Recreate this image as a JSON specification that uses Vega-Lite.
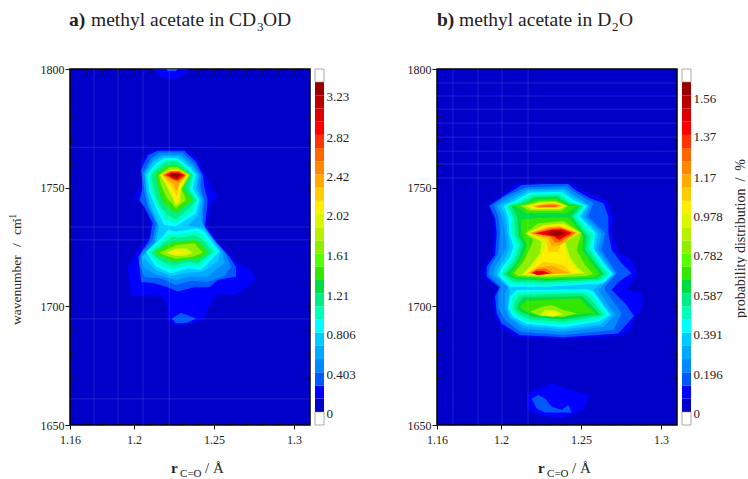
{"$schema":"https://vega.github.io/schema/vega-lite/v6.json","padding":{"left":7,"top":9,"right":0,"bottom":0},"background":"white","config":{"range":{"ordinal":["#0000c8","#0000ff","#0058ff","#0088ff","#00aaff","#00ccff","#00ffff","#00ffbb","#00ee88","#00dd44","#33e800","#55ff00","#90ee00","#b8f000","#d8f800","#ffee00","#ffcc00","#ffaa00","#ff8800","#ff6600","#ff3300","#ff0000","#dd0000","#bb0000","#990000"]},"axis":{"labelFont":"Liberation Serif","labelColor":"#222","labelFontSize":12,"domain":false,"grid":false,"tickColor":"#111","title":null},"text":{"font":"Liberation Serif","color":"#222"}},"spacing":50,"hconcat":[{"spacing":2,"hconcat":[{"width":240,"height":356,"view":{"fill":"#0000c8","stroke":"#000","strokeWidth":1.5},"resolve":{"axis":{"x":"independent","y":"independent"}},"layer":[
{"data":{"values":[
{"b":1,"p":0,"x":1.2169,"y":1766.2},{"b":1,"p":0,"x":1.2325,"y":1766.2},{"b":1,"p":0,"x":1.2398,"y":1762.4},{"b":1,"p":0,"x":1.2444,"y":1755.3},{"b":1,"p":0,"x":1.2471,"y":1751.8},{"b":1,"p":0,"x":1.2523,"y":1746.2},{"b":1,"p":0,"x":1.2471,"y":1742},{"b":1,"p":0,"x":1.246,"y":1733.6},{"b":1,"p":0,"x":1.2523,"y":1727.2},{"b":1,"p":0,"x":1.2606,"y":1721.6},{"b":1,"p":0,"x":1.2648,"y":1718.1},{"b":1,"p":0,"x":1.2731,"y":1715.3},{"b":1,"p":0,"x":1.2758,"y":1711.8},{"b":1,"p":0,"x":1.271,"y":1708.3},{"b":1,"p":0,"x":1.2627,"y":1704.8},{"b":1,"p":0,"x":1.2523,"y":1705.5},{"b":1,"p":0,"x":1.2471,"y":1700.6},{"b":1,"p":0,"x":1.2439,"y":1694.9},{"b":1,"p":0,"x":1.2377,"y":1692.8},{"b":1,"p":0,"x":1.2262,"y":1691.9},{"b":1,"p":0,"x":1.221,"y":1694.2},{"b":1,"p":0,"x":1.221,"y":1699.9},{"b":1,"p":0,"x":1.2169,"y":1704.8},{"b":1,"p":0,"x":1.1981,"y":1704.4},{"b":1,"p":0,"x":1.196,"y":1716.7},{"b":1,"p":0,"x":1.2027,"y":1723.7},{"b":1,"p":0,"x":1.2106,"y":1730.1},{"b":1,"p":0,"x":1.2096,"y":1737.8},{"b":1,"p":0,"x":1.2033,"y":1744.8},{"b":1,"p":0,"x":1.1998,"y":1744.8},{"b":1,"p":0,"x":1.2044,"y":1751.8},{"b":1,"p":0,"x":1.2044,"y":1761.7},{"b":1,"p":0,"x":1.2096,"y":1765.2},
{"b":1,"p":1,"x":1.2117,"y":1800},{"b":1,"p":1,"x":1.2346,"y":1800},{"b":1,"p":1,"x":1.2283,"y":1796.1},{"b":1,"p":1,"x":1.2231,"y":1795.8},{"b":1,"p":1,"x":1.2158,"y":1796.8},
{"b":2,"p":0,"x":1.2148,"y":1765.6},{"b":2,"p":0,"x":1.2314,"y":1765.6},{"b":2,"p":0,"x":1.2387,"y":1761},{"b":2,"p":0,"x":1.2429,"y":1755.3},{"b":2,"p":0,"x":1.2439,"y":1750.4},{"b":2,"p":0,"x":1.246,"y":1744.8},{"b":2,"p":0,"x":1.2444,"y":1733.6},{"b":2,"p":0,"x":1.2512,"y":1727.2},{"b":2,"p":0,"x":1.2596,"y":1720.9},{"b":2,"p":0,"x":1.2637,"y":1716.7},{"b":2,"p":0,"x":1.2637,"y":1712.5},{"b":2,"p":0,"x":1.2523,"y":1711.1},{"b":2,"p":0,"x":1.2471,"y":1708},{"b":2,"p":0,"x":1.2377,"y":1708},{"b":2,"p":0,"x":1.2273,"y":1706.2},{"b":2,"p":0,"x":1.221,"y":1708},{"b":2,"p":0,"x":1.2127,"y":1709.7},{"b":2,"p":0,"x":1.2044,"y":1710.4},{"b":2,"p":0,"x":1.2027,"y":1720.9},{"b":2,"p":0,"x":1.2096,"y":1728},{"b":2,"p":0,"x":1.2117,"y":1735},{"b":2,"p":0,"x":1.2064,"y":1742},{"b":2,"p":0,"x":1.2033,"y":1744.8},{"b":2,"p":0,"x":1.2054,"y":1749.7},{"b":2,"p":0,"x":1.2044,"y":1757.4},{"b":2,"p":0,"x":1.2089,"y":1763.8},
{"b":2,"p":1,"x":1.22,"y":1800},{"b":2,"p":1,"x":1.2273,"y":1800},{"b":2,"p":1,"x":1.2262,"y":1799.2},{"b":2,"p":1,"x":1.221,"y":1799.2},
{"b":2,"p":2,"x":1.2237,"y":1694.9},{"b":2,"p":2,"x":1.2294,"y":1697.3},{"b":2,"p":2,"x":1.2387,"y":1694.9},{"b":2,"p":2,"x":1.2335,"y":1693.1},{"b":2,"p":2,"x":1.2262,"y":1692.8},
{"b":3,"p":0,"x":1.2158,"y":1764.8},{"b":3,"p":0,"x":1.2304,"y":1764.8},{"b":3,"p":0,"x":1.2377,"y":1760.3},{"b":3,"p":0,"x":1.2419,"y":1755.3},{"b":3,"p":0,"x":1.2414,"y":1750.4},{"b":3,"p":0,"x":1.2439,"y":1744.8},{"b":3,"p":0,"x":1.2429,"y":1735},{"b":3,"p":0,"x":1.2481,"y":1729.4},{"b":3,"p":0,"x":1.2575,"y":1722.3},{"b":3,"p":0,"x":1.2606,"y":1716.7},{"b":3,"p":0,"x":1.2564,"y":1712.8},{"b":3,"p":0,"x":1.246,"y":1710.4},{"b":3,"p":0,"x":1.2356,"y":1710.8},{"b":3,"p":0,"x":1.2262,"y":1709},{"b":3,"p":0,"x":1.2169,"y":1711.8},{"b":3,"p":0,"x":1.2064,"y":1712.5},{"b":3,"p":0,"x":1.2033,"y":1718.1},{"b":3,"p":0,"x":1.2044,"y":1722.3},{"b":3,"p":0,"x":1.2117,"y":1728},{"b":3,"p":0,"x":1.2137,"y":1735},{"b":3,"p":0,"x":1.2085,"y":1742},{"b":3,"p":0,"x":1.2064,"y":1748.3},{"b":3,"p":0,"x":1.2054,"y":1756},{"b":3,"p":0,"x":1.2106,"y":1762.4},
{"b":4,"p":0,"x":1.2169,"y":1763.8},{"b":4,"p":0,"x":1.2294,"y":1763.8},{"b":4,"p":0,"x":1.2367,"y":1759.6},{"b":4,"p":0,"x":1.2408,"y":1755.3},{"b":4,"p":0,"x":1.2398,"y":1750.4},{"b":4,"p":0,"x":1.2429,"y":1744.8},{"b":4,"p":0,"x":1.2419,"y":1736.4},{"b":4,"p":0,"x":1.245,"y":1732.2},{"b":4,"p":0,"x":1.2554,"y":1723},{"b":4,"p":0,"x":1.2564,"y":1718.1},{"b":4,"p":0,"x":1.246,"y":1712.5},{"b":4,"p":0,"x":1.2356,"y":1712.5},{"b":4,"p":0,"x":1.2262,"y":1711.1},{"b":4,"p":0,"x":1.2148,"y":1713.2},{"b":4,"p":0,"x":1.2064,"y":1716},{"b":4,"p":0,"x":1.2044,"y":1720.9},{"b":4,"p":0,"x":1.2127,"y":1726.6},{"b":4,"p":0,"x":1.2148,"y":1734.3},{"b":4,"p":0,"x":1.2096,"y":1742},{"b":4,"p":0,"x":1.2075,"y":1748.3},{"b":4,"p":0,"x":1.2064,"y":1756},{"b":4,"p":0,"x":1.2117,"y":1761.7},
{"b":5,"p":0,"x":1.2179,"y":1763.1},{"b":5,"p":0,"x":1.2283,"y":1763.1},{"b":5,"p":0,"x":1.2356,"y":1758.9},{"b":5,"p":0,"x":1.2398,"y":1755.3},{"b":5,"p":0,"x":1.2387,"y":1749.7},{"b":5,"p":0,"x":1.2419,"y":1744.8},{"b":5,"p":0,"x":1.2398,"y":1737.8},{"b":5,"p":0,"x":1.2335,"y":1734},{"b":5,"p":0,"x":1.2439,"y":1732.9},{"b":5,"p":0,"x":1.2544,"y":1723},{"b":5,"p":0,"x":1.2523,"y":1718.8},{"b":5,"p":0,"x":1.2429,"y":1714.6},{"b":5,"p":0,"x":1.2346,"y":1714.3},{"b":5,"p":0,"x":1.2231,"y":1712.8},{"b":5,"p":0,"x":1.2137,"y":1715.3},{"b":5,"p":0,"x":1.2054,"y":1720.9},{"b":5,"p":0,"x":1.2137,"y":1727.2},{"b":5,"p":0,"x":1.2158,"y":1733.6},{"b":5,"p":0,"x":1.2106,"y":1742},{"b":5,"p":0,"x":1.2081,"y":1748.3},{"b":5,"p":0,"x":1.2069,"y":1756},{"b":5,"p":0,"x":1.2123,"y":1761},
{"b":6,"p":0,"x":1.2189,"y":1762.4},{"b":6,"p":0,"x":1.2273,"y":1762.4},{"b":6,"p":0,"x":1.2346,"y":1758.6},{"b":6,"p":0,"x":1.2387,"y":1755.3},{"b":6,"p":0,"x":1.2367,"y":1749.7},{"b":6,"p":0,"x":1.2408,"y":1744.8},{"b":6,"p":0,"x":1.2387,"y":1739.2},{"b":6,"p":0,"x":1.2262,"y":1733.6},{"b":6,"p":0,"x":1.2189,"y":1734.3},{"b":6,"p":0,"x":1.2137,"y":1741.3},{"b":6,"p":0,"x":1.2096,"y":1748.3},{"b":6,"p":0,"x":1.2081,"y":1755.3},{"b":6,"p":0,"x":1.2137,"y":1760.3},
{"b":6,"p":1,"x":1.221,"y":1732.2},{"b":6,"p":1,"x":1.2262,"y":1731.5},{"b":6,"p":1,"x":1.2398,"y":1732.9},{"b":6,"p":1,"x":1.2439,"y":1731.5},{"b":6,"p":1,"x":1.2533,"y":1723},{"b":6,"p":1,"x":1.246,"y":1718.1},{"b":6,"p":1,"x":1.2419,"y":1715.3},{"b":6,"p":1,"x":1.2346,"y":1716},{"b":6,"p":1,"x":1.2231,"y":1713.9},{"b":6,"p":1,"x":1.2137,"y":1716.7},{"b":6,"p":1,"x":1.2075,"y":1723},{"b":6,"p":1,"x":1.2169,"y":1728.7},
{"b":7,"p":0,"x":1.22,"y":1761.7},{"b":7,"p":0,"x":1.2273,"y":1761.7},{"b":7,"p":0,"x":1.2335,"y":1758.2},{"b":7,"p":0,"x":1.2377,"y":1755.3},{"b":7,"p":0,"x":1.2352,"y":1749.7},{"b":7,"p":0,"x":1.2398,"y":1744.8},{"b":7,"p":0,"x":1.2367,"y":1740.6},{"b":7,"p":0,"x":1.2262,"y":1735},{"b":7,"p":0,"x":1.22,"y":1736.4},{"b":7,"p":0,"x":1.2148,"y":1742},{"b":7,"p":0,"x":1.211,"y":1748.3},{"b":7,"p":0,"x":1.2089,"y":1755.3},{"b":7,"p":0,"x":1.2148,"y":1759.6},
{"b":7,"p":1,"x":1.2231,"y":1730.8},{"b":7,"p":1,"x":1.2262,"y":1730.1},{"b":7,"p":1,"x":1.2387,"y":1731.5},{"b":7,"p":1,"x":1.2429,"y":1730.1},{"b":7,"p":1,"x":1.2512,"y":1723},{"b":7,"p":1,"x":1.2439,"y":1718.8},{"b":7,"p":1,"x":1.2408,"y":1716.7},{"b":7,"p":1,"x":1.2346,"y":1717.4},{"b":7,"p":1,"x":1.2231,"y":1715.6},{"b":7,"p":1,"x":1.2148,"y":1718.1},{"b":7,"p":1,"x":1.2089,"y":1722.6},{"b":7,"p":1,"x":1.2179,"y":1728},
{"b":8,"p":0,"x":1.2206,"y":1761},{"b":8,"p":0,"x":1.2269,"y":1761},{"b":8,"p":0,"x":1.2325,"y":1757.7},{"b":8,"p":0,"x":1.2367,"y":1755.3},{"b":8,"p":0,"x":1.2339,"y":1749.7},{"b":8,"p":0,"x":1.2387,"y":1744.8},{"b":8,"p":0,"x":1.2346,"y":1741.3},{"b":8,"p":0,"x":1.2262,"y":1736.7},{"b":8,"p":0,"x":1.2206,"y":1738.5},{"b":8,"p":0,"x":1.2158,"y":1742.7},{"b":8,"p":0,"x":1.2127,"y":1748.3},{"b":8,"p":0,"x":1.2106,"y":1755.3},{"b":8,"p":0,"x":1.2158,"y":1758.9},
{"b":8,"p":1,"x":1.2242,"y":1729.4},{"b":8,"p":1,"x":1.2273,"y":1728.7},{"b":8,"p":1,"x":1.2377,"y":1729.8},{"b":8,"p":1,"x":1.2419,"y":1728.7},{"b":8,"p":1,"x":1.2492,"y":1723},{"b":8,"p":1,"x":1.2429,"y":1719.5},{"b":8,"p":1,"x":1.2398,"y":1717.8},{"b":8,"p":1,"x":1.2346,"y":1718.8},{"b":8,"p":1,"x":1.2231,"y":1717},{"b":8,"p":1,"x":1.2158,"y":1719.5},{"b":8,"p":1,"x":1.2106,"y":1722.6},{"b":8,"p":1,"x":1.2189,"y":1726.8},
{"b":10,"p":0,"x":1.2221,"y":1759.6},{"b":10,"p":0,"x":1.2262,"y":1759.6},{"b":10,"p":0,"x":1.2325,"y":1756.7},{"b":10,"p":0,"x":1.2346,"y":1755.3},{"b":10,"p":0,"x":1.2314,"y":1749.7},{"b":10,"p":0,"x":1.2367,"y":1744.8},{"b":10,"p":0,"x":1.2325,"y":1742.7},{"b":10,"p":0,"x":1.2262,"y":1739.2},{"b":10,"p":0,"x":1.2221,"y":1741.3},{"b":10,"p":0,"x":1.2179,"y":1744.1},{"b":10,"p":0,"x":1.2158,"y":1748.3},{"b":10,"p":0,"x":1.2137,"y":1755.3},{"b":10,"p":0,"x":1.2169,"y":1757.4},
{"b":10,"p":1,"x":1.2262,"y":1727.2},{"b":10,"p":1,"x":1.2377,"y":1728},{"b":10,"p":1,"x":1.2419,"y":1726.6},{"b":10,"p":1,"x":1.246,"y":1722.6},{"b":10,"p":1,"x":1.2408,"y":1720.2},{"b":10,"p":1,"x":1.2346,"y":1719.9},{"b":10,"p":1,"x":1.2252,"y":1718.8},{"b":10,"p":1,"x":1.2169,"y":1720.9},{"b":10,"p":1,"x":1.2127,"y":1722.6},{"b":10,"p":1,"x":1.22,"y":1725.8},
{"b":12,"p":0,"x":1.2221,"y":1758.6},{"b":12,"p":0,"x":1.2273,"y":1758.6},{"b":12,"p":0,"x":1.2352,"y":1755.3},{"b":12,"p":0,"x":1.2298,"y":1749.7},{"b":12,"p":0,"x":1.2325,"y":1744.8},{"b":12,"p":0,"x":1.2262,"y":1741.3},{"b":12,"p":0,"x":1.22,"y":1746.2},{"b":12,"p":0,"x":1.2169,"y":1751.1},{"b":12,"p":0,"x":1.2154,"y":1755.3},
{"b":12,"p":1,"x":1.2262,"y":1725.8},{"b":12,"p":1,"x":1.2377,"y":1726.6},{"b":12,"p":1,"x":1.2429,"y":1722.6},{"b":12,"p":1,"x":1.2367,"y":1720.9},{"b":12,"p":1,"x":1.2262,"y":1720.1},{"b":12,"p":1,"x":1.2189,"y":1721.6},{"b":12,"p":1,"x":1.2158,"y":1722.6},{"b":12,"p":1,"x":1.2221,"y":1724.4},
{"b":14,"p":0,"x":1.2231,"y":1757.7},{"b":14,"p":0,"x":1.2273,"y":1757.7},{"b":14,"p":0,"x":1.2341,"y":1755.3},{"b":14,"p":0,"x":1.2294,"y":1749.7},{"b":14,"p":0,"x":1.2289,"y":1744.1},{"b":14,"p":0,"x":1.2262,"y":1742.4},{"b":14,"p":0,"x":1.2231,"y":1746.9},{"b":14,"p":0,"x":1.22,"y":1751.1},{"b":14,"p":0,"x":1.2162,"y":1755.3},
{"b":14,"p":1,"x":1.2262,"y":1724.4},{"b":14,"p":1,"x":1.2325,"y":1724.4},{"b":14,"p":1,"x":1.2367,"y":1722.6},{"b":14,"p":1,"x":1.2325,"y":1721.4},{"b":14,"p":1,"x":1.2262,"y":1721.2},{"b":14,"p":1,"x":1.22,"y":1722.6},
{"b":15,"p":0,"x":1.2235,"y":1757.4},{"b":15,"p":0,"x":1.2273,"y":1757.4},{"b":15,"p":0,"x":1.2335,"y":1755.3},{"b":15,"p":0,"x":1.2287,"y":1750.4},{"b":15,"p":0,"x":1.2277,"y":1744.1},{"b":15,"p":0,"x":1.2262,"y":1743.1},{"b":15,"p":0,"x":1.2235,"y":1748.3},{"b":15,"p":0,"x":1.2206,"y":1751.8},{"b":15,"p":0,"x":1.2169,"y":1755.3},
{"b":15,"p":1,"x":1.2262,"y":1723.6},{"b":15,"p":1,"x":1.2304,"y":1723},{"b":15,"p":1,"x":1.2283,"y":1721.9},{"b":15,"p":1,"x":1.2242,"y":1722},{"b":15,"p":1,"x":1.2221,"y":1722.8},
{"b":16,"p":0,"x":1.2231,"y":1757.2},{"b":16,"p":0,"x":1.2283,"y":1757.2},{"b":16,"p":0,"x":1.2331,"y":1755.3},{"b":16,"p":0,"x":1.2283,"y":1751.1},{"b":16,"p":0,"x":1.2267,"y":1746.2},{"b":16,"p":0,"x":1.2242,"y":1749.7},{"b":16,"p":0,"x":1.221,"y":1752.5},{"b":16,"p":0,"x":1.2173,"y":1755.3},
{"b":17,"p":0,"x":1.2221,"y":1757},{"b":17,"p":0,"x":1.2283,"y":1757},{"b":17,"p":0,"x":1.2331,"y":1755.3},{"b":17,"p":0,"x":1.2283,"y":1751.8},{"b":17,"p":0,"x":1.2267,"y":1748.7},{"b":17,"p":0,"x":1.2242,"y":1751.5},{"b":17,"p":0,"x":1.2179,"y":1755.3},
{"b":19,"p":0,"x":1.2227,"y":1756.9},{"b":19,"p":0,"x":1.2283,"y":1756.9},{"b":19,"p":0,"x":1.2325,"y":1755.3},{"b":19,"p":0,"x":1.2277,"y":1752.5},{"b":19,"p":0,"x":1.2252,"y":1753},{"b":19,"p":0,"x":1.2185,"y":1755.3},
{"b":20,"p":0,"x":1.2231,"y":1756.7},{"b":20,"p":0,"x":1.2277,"y":1756.7},{"b":20,"p":0,"x":1.2319,"y":1755.3},{"b":20,"p":0,"x":1.2273,"y":1753},{"b":20,"p":0,"x":1.2248,"y":1753.5},{"b":20,"p":0,"x":1.2196,"y":1755.3},
{"b":21,"p":0,"x":1.2235,"y":1756.3},{"b":21,"p":0,"x":1.2277,"y":1756.3},{"b":21,"p":0,"x":1.231,"y":1755.3},{"b":21,"p":0,"x":1.2269,"y":1753.2},{"b":21,"p":0,"x":1.2242,"y":1754},{"b":21,"p":0,"x":1.2202,"y":1755.3},
{"b":23,"p":0,"x":1.2231,"y":1756},{"b":23,"p":0,"x":1.2283,"y":1756},{"b":23,"p":0,"x":1.2298,"y":1755.3},{"b":23,"p":0,"x":1.2262,"y":1753.7},{"b":23,"p":0,"x":1.2215,"y":1755.2},
{"b":24,"p":0,"x":1.2237,"y":1755.8},{"b":24,"p":0,"x":1.2277,"y":1755.8},{"b":24,"p":0,"x":1.2289,"y":1755.3},{"b":24,"p":0,"x":1.226,"y":1754.2},{"b":24,"p":0,"x":1.2227,"y":1755.2}
]},"mark":{"type":"line","order":false,"strokeWidth":0},"encoding":{"x":{"field":"x","type":"quantitative","scale":{"domain":[1.16,1.31],"nice":false},"axis":{"orient":"bottom","values":[1.16,1.2,1.25,1.3],"format":".3~g","tickSize":4,"labelPadding":5,"labelFlush":false}},"y":{"field":"y","type":"quantitative","scale":{"domain":[1650,1800],"nice":false},"axis":{"orient":"left","values":[1650,1700,1750,1800],"format":"d","tickSize":5,"labelPadding":1}},"fill":{"field":"b","type":"ordinal","scale":{"domain":[0,1,2,3,4,5,6,7,8,9,10,11,12,13,14,15,16,17,18,19,20,21,22,23,24]},"legend":null},"detail":{"field":"p"}}},
{"data":{"values":[{"x":1.175},{"x":1.19},{"x":1.2056},{"x":1.222}]},"mark":{"type":"rule","color":"#fff","opacity":0.12,"strokeWidth":1},"encoding":{"x":{"field":"x","type":"quantitative","scale":{"domain":[1.16,1.31],"nice":false},"axis":{"orient":"top","values":[1.17,1.18,1.19,1.2,1.21,1.22,1.23,1.24,1.25,1.26,1.27,1.28,1.29,1.3],"labels":false,"tickSize":-3}}}},
{"data":{"values":[{"y":1767},{"y":1733.4},{"y":1728},{"y":1694.7},{"y":1661}]},"mark":{"type":"rule","color":"#fff","opacity":0.12,"strokeWidth":1},"encoding":{"y":{"field":"y","type":"quantitative","scale":{"domain":[1650,1800],"nice":false},"axis":{"orient":"right","values":[1660,1670,1680,1690,1700,1710,1720,1730,1740,1750,1760,1770,1780,1790],"labels":false,"tickSize":-3}}}},
{"data":{"values":[{"x":1.1594,"y":1818.1,"t":"a)"}]},"mark":{"type":"text","align":"left","baseline":"alphabetic","fontSize":19.5,"fontWeight":"bold"},"encoding":{"x":{"field":"x","type":"quantitative","scale":{"domain":[1.16,1.31],"nice":false},"axis":{"orient":"bottom","values":[1.17,1.18,1.19,1.2,1.21,1.22,1.23,1.24,1.25,1.26,1.27,1.28,1.29,1.3],"labels":false,"tickSize":-3}},"y":{"field":"y","type":"quantitative","scale":{"domain":[1650,1800],"nice":false},"axis":{"orient":"left","values":[1660,1670,1680,1690,1710,1720,1730,1740,1760,1770,1780,1790],"labels":false,"tickSize":-3}},"text":{"field":"t"}}},
{"data":{"values":[{"x":1.1731,"y":1818.1,"t":"methyl acetate in CD"},{"x":1.2806,"y":1818.1,"t":"OD"}]},"mark":{"type":"text","align":"left","baseline":"alphabetic","fontSize":19.5},"encoding":{"x":{"field":"x","type":"quantitative","axis":null},"y":{"field":"y","type":"quantitative","axis":null},"text":{"field":"t"}}},
{"data":{"values":[{"x":1.2769,"y":1816,"t":"3"}]},"mark":{"type":"text","align":"left","baseline":"alphabetic","fontSize":13},"encoding":{"x":{"field":"x","type":"quantitative","axis":null},"y":{"field":"y","type":"quantitative","axis":null},"text":{"field":"t"}}},
{"data":{"values":[{"x":1.2288,"y":1628.1,"t":"C=O"}]},"mark":{"type":"text","align":"left","baseline":"alphabetic","fontSize":11},"encoding":{"x":{"field":"x","type":"quantitative","axis":null},"y":{"field":"y","type":"quantitative","axis":null},"text":{"field":"t"}}},
{"data":{"values":[{"x":1.2231,"y":1629.8,"t":"r"}]},"mark":{"type":"text","align":"left","baseline":"alphabetic","fontSize":15,"fontWeight":"bold"},"encoding":{"x":{"field":"x","type":"quantitative","axis":null},"y":{"field":"y","type":"quantitative","axis":null},"text":{"field":"t"}}},
{"data":{"values":[{"x":1.2444,"y":1629.8,"t":"/ Å"}]},"mark":{"type":"text","align":"left","baseline":"alphabetic","fontSize":15},"encoding":{"x":{"field":"x","type":"quantitative","axis":null},"y":{"field":"y","type":"quantitative","axis":null},"text":{"field":"t"}}},
{"data":{"values":[{"x":1.1294,"y":1692.1,"t":"wavenumber"},{"x":1.1294,"y":1725,"t":"/"},{"x":1.1294,"y":1730.1,"t":"cm"}]},"mark":{"type":"text","align":"left","baseline":"alphabetic","fontSize":13.5,"angle":270},"encoding":{"x":{"field":"x","type":"quantitative","axis":null},"y":{"field":"y","type":"quantitative","axis":null},"text":{"field":"t"}}},
{"data":{"values":[{"x":1.1263,"y":1735.5,"t":"-1"}]},"mark":{"type":"text","align":"left","baseline":"alphabetic","fontSize":10,"angle":270},"encoding":{"x":{"field":"x","type":"quantitative","axis":null},"y":{"field":"y","type":"quantitative","axis":null},"text":{"field":"t"}}}
]},
{"width":9,"height":356,"view":{"stroke":null},"resolve":{"axis":{"y":"independent"}},"layer":[
{"data":{"values":[{"lo":-0.1344,"hi":0},{"lo":3.36,"hi":3.4944}]},"mark":{"type":"rect","fill":"#fff","stroke":"#aaa","strokeWidth":1},"encoding":{"y":{"field":"lo","type":"quantitative","scale":{"domain":[-0.1344,3.4944],"nice":false,"zero":false},"axis":null},"y2":{"field":"hi"}}},
{"data":{"values":[{"b":0,"lo":0,"hi":0.1344},{"b":1,"lo":0.1344,"hi":0.2688},{"b":2,"lo":0.2688,"hi":0.4032},{"b":3,"lo":0.4032,"hi":0.5376},{"b":4,"lo":0.5376,"hi":0.672},{"b":5,"lo":0.672,"hi":0.8064},{"b":6,"lo":0.8064,"hi":0.9408},{"b":7,"lo":0.9408,"hi":1.0752},{"b":8,"lo":1.0752,"hi":1.2096},{"b":9,"lo":1.2096,"hi":1.344},{"b":10,"lo":1.344,"hi":1.4784},{"b":11,"lo":1.4784,"hi":1.6128},{"b":12,"lo":1.6128,"hi":1.7472},{"b":13,"lo":1.7472,"hi":1.8816},{"b":14,"lo":1.8816,"hi":2.016},{"b":15,"lo":2.016,"hi":2.1504},{"b":16,"lo":2.1504,"hi":2.2848},{"b":17,"lo":2.2848,"hi":2.4192},{"b":18,"lo":2.4192,"hi":2.5536},{"b":19,"lo":2.5536,"hi":2.688},{"b":20,"lo":2.688,"hi":2.8224},{"b":21,"lo":2.8224,"hi":2.9568},{"b":22,"lo":2.9568,"hi":3.0912},{"b":23,"lo":3.0912,"hi":3.2256},{"b":24,"lo":3.2256,"hi":3.36}]},"mark":{"type":"rect"},"encoding":{"y":{"field":"lo","type":"quantitative","scale":{"domain":[-0.1344,3.4944],"nice":false,"zero":false},"axis":{"orient":"right","values":[0,0.403,0.806,1.21,1.61,2.02,2.42,2.82,3.23],"format":".3~g","tickSize":0,"labelPadding":2,"labelFontSize":13,"labelOffset":2}},"y2":{"field":"hi"},"fill":{"field":"b","type":"ordinal","scale":{"domain":[0,1,2,3,4,5,6,7,8,9,10,11,12,13,14,15,16,17,18,19,20,21,22,23,24]},"legend":null}}}
]}]},
{"spacing":2,"hconcat":[{"width":240,"height":356,"view":{"fill":"#0000c8","stroke":"#000","strokeWidth":1.5},"resolve":{"axis":{"x":"independent","y":"independent"}},"layer":[
{"data":{"values":[
{"b":1,"p":0,"x":1.2108,"y":1751.8},{"b":1,"p":0,"x":1.2431,"y":1752.1},{"b":1,"p":0,"x":1.2483,"y":1749.7},{"b":1,"p":0,"x":1.2588,"y":1746.2},{"b":1,"p":0,"x":1.266,"y":1744.8},{"b":1,"p":0,"x":1.2702,"y":1737.8},{"b":1,"p":0,"x":1.2692,"y":1730.8},{"b":1,"p":0,"x":1.2733,"y":1722.3},{"b":1,"p":0,"x":1.2806,"y":1720.2},{"b":1,"p":0,"x":1.2852,"y":1713.9},{"b":1,"p":0,"x":1.2785,"y":1706.9},{"b":1,"p":0,"x":1.2883,"y":1705.5},{"b":1,"p":0,"x":1.2883,"y":1699.2},{"b":1,"p":0,"x":1.2831,"y":1694.9},{"b":1,"p":0,"x":1.2806,"y":1689.3},{"b":1,"p":0,"x":1.2723,"y":1687.5},{"b":1,"p":0,"x":1.239,"y":1686.2},{"b":1,"p":0,"x":1.2108,"y":1687.2},{"b":1,"p":0,"x":1.2004,"y":1690.7},{"b":1,"p":0,"x":1.1963,"y":1695.6},{"b":1,"p":0,"x":1.1952,"y":1704.1},{"b":1,"p":0,"x":1.1983,"y":1708},{"b":1,"p":0,"x":1.1896,"y":1711.8},{"b":1,"p":0,"x":1.1896,"y":1716.7},{"b":1,"p":0,"x":1.1946,"y":1721.6},{"b":1,"p":0,"x":1.1958,"y":1730.8},{"b":1,"p":0,"x":1.1952,"y":1737.1},{"b":1,"p":0,"x":1.1921,"y":1742.4},{"b":1,"p":0,"x":1.1994,"y":1746.2},
{"b":1,"p":1,"x":1.2161,"y":1663.3},{"b":1,"p":1,"x":1.2317,"y":1667.6},{"b":1,"p":1,"x":1.2473,"y":1664},{"b":1,"p":1,"x":1.2556,"y":1662.6},{"b":1,"p":1,"x":1.2515,"y":1656.3},{"b":1,"p":1,"x":1.2379,"y":1652.8},{"b":1,"p":1,"x":1.2244,"y":1654.2},{"b":1,"p":1,"x":1.2161,"y":1656.3},
{"b":2,"p":0,"x":1.2129,"y":1751.1},{"b":2,"p":0,"x":1.2265,"y":1751.5},{"b":2,"p":0,"x":1.2421,"y":1751.5},{"b":2,"p":0,"x":1.2473,"y":1748.7},{"b":2,"p":0,"x":1.2556,"y":1745.5},{"b":2,"p":0,"x":1.264,"y":1743.4},{"b":2,"p":0,"x":1.2671,"y":1737.8},{"b":2,"p":0,"x":1.2671,"y":1730.8},{"b":2,"p":0,"x":1.2692,"y":1723.7},{"b":2,"p":0,"x":1.2754,"y":1718.1},{"b":2,"p":0,"x":1.2817,"y":1713.9},{"b":2,"p":0,"x":1.2733,"y":1710.4},{"b":2,"p":0,"x":1.2692,"y":1706.9},{"b":2,"p":0,"x":1.2785,"y":1700.6},{"b":2,"p":0,"x":1.2831,"y":1695.9},{"b":2,"p":0,"x":1.2733,"y":1688.6},{"b":2,"p":0,"x":1.239,"y":1687},{"b":2,"p":0,"x":1.2115,"y":1687.9},{"b":2,"p":0,"x":1.2004,"y":1692.8},{"b":2,"p":0,"x":1.1973,"y":1697},{"b":2,"p":0,"x":1.1963,"y":1704.1},{"b":2,"p":0,"x":1.199,"y":1708},{"b":2,"p":0,"x":1.1911,"y":1712.5},{"b":2,"p":0,"x":1.1911,"y":1716.7},{"b":2,"p":0,"x":1.1963,"y":1721.6},{"b":2,"p":0,"x":1.1973,"y":1730.8},{"b":2,"p":0,"x":1.1963,"y":1737.1},{"b":2,"p":0,"x":1.1927,"y":1742.4},{"b":2,"p":0,"x":1.2004,"y":1745.9},
{"b":2,"p":1,"x":1.2192,"y":1661.2},{"b":2,"p":1,"x":1.2233,"y":1662.6},{"b":2,"p":1,"x":1.2275,"y":1661.2},{"b":2,"p":1,"x":1.2317,"y":1657.7},{"b":2,"p":1,"x":1.2379,"y":1656.3},{"b":2,"p":1,"x":1.2421,"y":1658.4},{"b":2,"p":1,"x":1.2442,"y":1655.3},{"b":2,"p":1,"x":1.2275,"y":1655.3},{"b":2,"p":1,"x":1.2223,"y":1657},
{"b":3,"p":0,"x":1.215,"y":1750.1},{"b":3,"p":0,"x":1.241,"y":1750.7},{"b":3,"p":0,"x":1.2473,"y":1747.6},{"b":3,"p":0,"x":1.2577,"y":1743.4},{"b":3,"p":0,"x":1.2546,"y":1737.8},{"b":3,"p":0,"x":1.265,"y":1730.8},{"b":3,"p":0,"x":1.2629,"y":1723.7},{"b":3,"p":0,"x":1.2723,"y":1713.9},{"b":3,"p":0,"x":1.265,"y":1708.3},{"b":3,"p":0,"x":1.265,"y":1706.9},{"b":3,"p":0,"x":1.2754,"y":1697},{"b":3,"p":0,"x":1.2702,"y":1690},{"b":3,"p":0,"x":1.239,"y":1687.9},{"b":3,"p":0,"x":1.2119,"y":1689.3},{"b":3,"p":0,"x":1.2025,"y":1694.2},{"b":3,"p":0,"x":1.1983,"y":1699.2},{"b":3,"p":0,"x":1.1983,"y":1705.5},{"b":3,"p":0,"x":1.1998,"y":1708.3},{"b":3,"p":0,"x":1.1921,"y":1713.2},{"b":3,"p":0,"x":1.1931,"y":1716.7},{"b":3,"p":0,"x":1.1983,"y":1722.3},{"b":3,"p":0,"x":1.1994,"y":1730.8},{"b":3,"p":0,"x":1.1983,"y":1737.8},{"b":3,"p":0,"x":1.1952,"y":1742.7},{"b":3,"p":0,"x":1.2025,"y":1746.2},
{"b":4,"p":0,"x":1.2161,"y":1749.3},{"b":4,"p":0,"x":1.24,"y":1749.7},{"b":4,"p":0,"x":1.2473,"y":1746.2},{"b":4,"p":0,"x":1.2556,"y":1742.4},{"b":4,"p":0,"x":1.2525,"y":1737.8},{"b":4,"p":0,"x":1.2629,"y":1730.8},{"b":4,"p":0,"x":1.2608,"y":1723.7},{"b":4,"p":0,"x":1.2713,"y":1713.6},{"b":4,"p":0,"x":1.264,"y":1709},{"b":4,"p":0,"x":1.2608,"y":1706.9},{"b":4,"p":0,"x":1.2713,"y":1696.3},{"b":4,"p":0,"x":1.264,"y":1691.4},{"b":4,"p":0,"x":1.239,"y":1689.3},{"b":4,"p":0,"x":1.214,"y":1690.7},{"b":4,"p":0,"x":1.2046,"y":1695.6},{"b":4,"p":0,"x":1.2025,"y":1699.2},{"b":4,"p":0,"x":1.2025,"y":1705.5},{"b":4,"p":0,"x":1.2046,"y":1708},{"b":4,"p":0,"x":1.1952,"y":1713.2},{"b":4,"p":0,"x":1.1963,"y":1716.7},{"b":4,"p":0,"x":1.2004,"y":1720.9},{"b":4,"p":0,"x":1.2035,"y":1725.2},{"b":4,"p":0,"x":1.2025,"y":1730.8},{"b":4,"p":0,"x":1.201,"y":1737.1},{"b":4,"p":0,"x":1.1973,"y":1742.4},{"b":4,"p":0,"x":1.2046,"y":1745.5},
{"b":5,"p":0,"x":1.2171,"y":1748.7},{"b":5,"p":0,"x":1.239,"y":1749},{"b":5,"p":0,"x":1.2463,"y":1745.5},{"b":5,"p":0,"x":1.2546,"y":1742.4},{"b":5,"p":0,"x":1.2504,"y":1737.8},{"b":5,"p":0,"x":1.2608,"y":1730.8},{"b":5,"p":0,"x":1.2588,"y":1723.7},{"b":5,"p":0,"x":1.2706,"y":1713.6},{"b":5,"p":0,"x":1.2619,"y":1709.4},{"b":5,"p":0,"x":1.2577,"y":1706.9},{"b":5,"p":0,"x":1.2692,"y":1696.3},{"b":5,"p":0,"x":1.2619,"y":1692.1},{"b":5,"p":0,"x":1.239,"y":1690.3},{"b":5,"p":0,"x":1.215,"y":1691.7},{"b":5,"p":0,"x":1.2056,"y":1695.6},{"b":5,"p":0,"x":1.204,"y":1699.2},{"b":5,"p":0,"x":1.2056,"y":1706.9},{"b":5,"p":0,"x":1.1973,"y":1713.2},{"b":5,"p":0,"x":1.1983,"y":1716},{"b":5,"p":0,"x":1.2025,"y":1720.2},{"b":5,"p":0,"x":1.2056,"y":1725.2},{"b":5,"p":0,"x":1.204,"y":1730.8},{"b":5,"p":0,"x":1.2031,"y":1737.1},{"b":5,"p":0,"x":1.1998,"y":1742.4},{"b":5,"p":0,"x":1.2067,"y":1744.8},
{"b":6,"p":0,"x":1.2181,"y":1748},{"b":6,"p":0,"x":1.2379,"y":1748.3},{"b":6,"p":0,"x":1.2452,"y":1744.8},{"b":6,"p":0,"x":1.2535,"y":1742.4},{"b":6,"p":0,"x":1.249,"y":1737.8},{"b":6,"p":0,"x":1.2592,"y":1730.8},{"b":6,"p":0,"x":1.2577,"y":1724.4},{"b":6,"p":0,"x":1.265,"y":1717.4},{"b":6,"p":0,"x":1.2698,"y":1713.6},{"b":6,"p":0,"x":1.264,"y":1709.7},{"b":6,"p":0,"x":1.2286,"y":1708.3},{"b":6,"p":0,"x":1.2056,"y":1708.3},{"b":6,"p":0,"x":1.1983,"y":1713.2},{"b":6,"p":0,"x":1.2004,"y":1716},{"b":6,"p":0,"x":1.2056,"y":1720.9},{"b":6,"p":0,"x":1.2077,"y":1725.2},{"b":6,"p":0,"x":1.2052,"y":1730.8},{"b":6,"p":0,"x":1.2046,"y":1737.1},{"b":6,"p":0,"x":1.2019,"y":1742.4},{"b":6,"p":0,"x":1.2088,"y":1744.5},
{"b":6,"p":1,"x":1.2098,"y":1706.9},{"b":6,"p":1,"x":1.2535,"y":1707.2},{"b":6,"p":1,"x":1.2577,"y":1706.2},{"b":6,"p":1,"x":1.2681,"y":1696.3},{"b":6,"p":1,"x":1.2608,"y":1693.5},{"b":6,"p":1,"x":1.239,"y":1691.2},{"b":6,"p":1,"x":1.2161,"y":1692.6},{"b":6,"p":1,"x":1.2077,"y":1695.6},{"b":6,"p":1,"x":1.2046,"y":1699.2},{"b":6,"p":1,"x":1.2056,"y":1704.1},
{"b":7,"p":0,"x":1.2192,"y":1747.3},{"b":7,"p":0,"x":1.2369,"y":1747.6},{"b":7,"p":0,"x":1.2442,"y":1744.1},{"b":7,"p":0,"x":1.2525,"y":1742.4},{"b":7,"p":0,"x":1.2473,"y":1737.8},{"b":7,"p":0,"x":1.2577,"y":1730.1},{"b":7,"p":0,"x":1.256,"y":1724.4},{"b":7,"p":0,"x":1.2629,"y":1717.4},{"b":7,"p":0,"x":1.2681,"y":1713.6},{"b":7,"p":0,"x":1.2619,"y":1710.4},{"b":7,"p":0,"x":1.2286,"y":1709},{"b":7,"p":0,"x":1.2067,"y":1709.4},{"b":7,"p":0,"x":1.1998,"y":1713.6},{"b":7,"p":0,"x":1.2025,"y":1716},{"b":7,"p":0,"x":1.2077,"y":1720.9},{"b":7,"p":0,"x":1.2102,"y":1725.8},{"b":7,"p":0,"x":1.2067,"y":1730.8},{"b":7,"p":0,"x":1.2067,"y":1737.1},{"b":7,"p":0,"x":1.2031,"y":1742.4},{"b":7,"p":0,"x":1.2102,"y":1744.1},
{"b":7,"p":1,"x":1.2108,"y":1705.9},{"b":7,"p":1,"x":1.2525,"y":1706.2},{"b":7,"p":1,"x":1.2567,"y":1704.8},{"b":7,"p":1,"x":1.266,"y":1696.3},{"b":7,"p":1,"x":1.2588,"y":1694.2},{"b":7,"p":1,"x":1.239,"y":1692.4},{"b":7,"p":1,"x":1.2171,"y":1693.5},{"b":7,"p":1,"x":1.2088,"y":1696.3},{"b":7,"p":1,"x":1.2063,"y":1699.2},{"b":7,"p":1,"x":1.2073,"y":1703.4},
{"b":8,"p":0,"x":1.2202,"y":1746.5},{"b":8,"p":0,"x":1.2358,"y":1746.9},{"b":8,"p":0,"x":1.2431,"y":1743.7},{"b":8,"p":0,"x":1.2515,"y":1742.4},{"b":8,"p":0,"x":1.2456,"y":1737.8},{"b":8,"p":0,"x":1.2556,"y":1729.4},{"b":8,"p":0,"x":1.2546,"y":1724.4},{"b":8,"p":0,"x":1.2615,"y":1717.4},{"b":8,"p":0,"x":1.266,"y":1713.6},{"b":8,"p":0,"x":1.2608,"y":1711.1},{"b":8,"p":0,"x":1.2286,"y":1710},{"b":8,"p":0,"x":1.2077,"y":1710.4},{"b":8,"p":0,"x":1.2015,"y":1713.6},{"b":8,"p":0,"x":1.2046,"y":1716},{"b":8,"p":0,"x":1.2088,"y":1720.2},{"b":8,"p":0,"x":1.2119,"y":1725.8},{"b":8,"p":0,"x":1.2088,"y":1730.1},{"b":8,"p":0,"x":1.2081,"y":1737.1},{"b":8,"p":0,"x":1.2046,"y":1742.4},{"b":8,"p":0,"x":1.2119,"y":1743.7},
{"b":8,"p":1,"x":1.2119,"y":1704.8},{"b":8,"p":1,"x":1.2515,"y":1705.5},{"b":8,"p":1,"x":1.2556,"y":1703.4},{"b":8,"p":1,"x":1.264,"y":1696.3},{"b":8,"p":1,"x":1.2577,"y":1695.4},{"b":8,"p":1,"x":1.239,"y":1693.5},{"b":8,"p":1,"x":1.2181,"y":1694.5},{"b":8,"p":1,"x":1.2102,"y":1697},{"b":8,"p":1,"x":1.2081,"y":1699.2},{"b":8,"p":1,"x":1.2088,"y":1702},
{"b":9,"p":0,"x":1.2213,"y":1745.9},{"b":9,"p":0,"x":1.2348,"y":1746.2},{"b":9,"p":0,"x":1.2421,"y":1743.1},{"b":9,"p":0,"x":1.2494,"y":1742.4},{"b":9,"p":0,"x":1.2442,"y":1737.8},{"b":9,"p":0,"x":1.2535,"y":1729.4},{"b":9,"p":0,"x":1.2525,"y":1723.7},{"b":9,"p":0,"x":1.2598,"y":1717.4},{"b":9,"p":0,"x":1.264,"y":1713.6},{"b":9,"p":0,"x":1.2598,"y":1711.7},{"b":9,"p":0,"x":1.2286,"y":1710.8},{"b":9,"p":0,"x":1.2088,"y":1711.4},{"b":9,"p":0,"x":1.2031,"y":1713.6},{"b":9,"p":0,"x":1.2067,"y":1716},{"b":9,"p":0,"x":1.2108,"y":1720.2},{"b":9,"p":0,"x":1.214,"y":1725.8},{"b":9,"p":0,"x":1.2108,"y":1730.1},{"b":9,"p":0,"x":1.2102,"y":1737.1},{"b":9,"p":0,"x":1.2067,"y":1742.4},{"b":9,"p":0,"x":1.214,"y":1743.1},
{"b":9,"p":1,"x":1.214,"y":1703.8},{"b":9,"p":1,"x":1.2504,"y":1704.4},{"b":9,"p":1,"x":1.2546,"y":1702},{"b":9,"p":1,"x":1.2619,"y":1696.3},{"b":9,"p":1,"x":1.2567,"y":1696.3},{"b":9,"p":1,"x":1.239,"y":1694.5},{"b":9,"p":1,"x":1.2192,"y":1695.6},{"b":9,"p":1,"x":1.2119,"y":1697.8},{"b":9,"p":1,"x":1.2102,"y":1699.2},{"b":9,"p":1,"x":1.2108,"y":1701.3},
{"b":10,"p":0,"x":1.2223,"y":1745.1},{"b":10,"p":0,"x":1.2344,"y":1745.4},{"b":10,"p":0,"x":1.2421,"y":1742.4},{"b":10,"p":0,"x":1.2473,"y":1742.3},{"b":10,"p":0,"x":1.241,"y":1739.2},{"b":10,"p":0,"x":1.2161,"y":1739.2},{"b":10,"p":0,"x":1.2088,"y":1742.4},{"b":10,"p":0,"x":1.215,"y":1743.1},
{"b":10,"p":1,"x":1.2213,"y":1737.1},{"b":10,"p":1,"x":1.239,"y":1737.5},{"b":10,"p":1,"x":1.2431,"y":1737.1},{"b":10,"p":1,"x":1.2515,"y":1729.4},{"b":10,"p":1,"x":1.251,"y":1723.7},{"b":10,"p":1,"x":1.2577,"y":1717.4},{"b":10,"p":1,"x":1.2619,"y":1713.6},{"b":10,"p":1,"x":1.2577,"y":1712.2},{"b":10,"p":1,"x":1.2286,"y":1711.5},{"b":10,"p":1,"x":1.2098,"y":1712.2},{"b":10,"p":1,"x":1.2052,"y":1713.6},{"b":10,"p":1,"x":1.2088,"y":1716},{"b":10,"p":1,"x":1.2129,"y":1720.2},{"b":10,"p":1,"x":1.2161,"y":1725.8},{"b":10,"p":1,"x":1.2129,"y":1730.1},{"b":10,"p":1,"x":1.2123,"y":1736.4},
{"b":10,"p":2,"x":1.2161,"y":1702.4},{"b":10,"p":2,"x":1.2494,"y":1703.4},{"b":10,"p":2,"x":1.2531,"y":1700.6},{"b":10,"p":2,"x":1.2598,"y":1696.3},{"b":10,"p":2,"x":1.2556,"y":1697.3},{"b":10,"p":2,"x":1.239,"y":1695.6},{"b":10,"p":2,"x":1.2202,"y":1696.6},{"b":10,"p":2,"x":1.214,"y":1698.5},{"b":10,"p":2,"x":1.2119,"y":1699.9},
{"b":12,"p":0,"x":1.2244,"y":1744.4},{"b":12,"p":0,"x":1.2338,"y":1744.5},{"b":12,"p":0,"x":1.2421,"y":1742.4},{"b":12,"p":0,"x":1.2379,"y":1740.3},{"b":12,"p":0,"x":1.2181,"y":1740.3},{"b":12,"p":0,"x":1.2119,"y":1742.4},{"b":12,"p":0,"x":1.2171,"y":1743},
{"b":12,"p":1,"x":1.2233,"y":1735},{"b":12,"p":1,"x":1.239,"y":1736},{"b":12,"p":1,"x":1.2504,"y":1731},{"b":12,"p":1,"x":1.2473,"y":1723.7},{"b":12,"p":1,"x":1.2525,"y":1717.4},{"b":12,"p":1,"x":1.2577,"y":1713.6},{"b":12,"p":1,"x":1.2535,"y":1712.8},{"b":12,"p":1,"x":1.2286,"y":1712.2},{"b":12,"p":1,"x":1.2108,"y":1712.8},{"b":12,"p":1,"x":1.2081,"y":1713.9},{"b":12,"p":1,"x":1.214,"y":1718.8},{"b":12,"p":1,"x":1.2181,"y":1724.4},{"b":12,"p":1,"x":1.2202,"y":1728},{"b":12,"p":1,"x":1.215,"y":1730.8},
{"b":12,"p":2,"x":1.2181,"y":1697.8},{"b":12,"p":2,"x":1.2265,"y":1699.9},{"b":12,"p":2,"x":1.2317,"y":1700.6},{"b":12,"p":2,"x":1.239,"y":1698.5},{"b":12,"p":2,"x":1.2473,"y":1697},{"b":12,"p":2,"x":1.239,"y":1695.6},{"b":12,"p":2,"x":1.2244,"y":1695.9},
{"b":14,"p":0,"x":1.2254,"y":1743.8},{"b":14,"p":0,"x":1.2338,"y":1744},{"b":14,"p":0,"x":1.2406,"y":1742.4},{"b":14,"p":0,"x":1.2369,"y":1740.9},{"b":14,"p":0,"x":1.2192,"y":1740.9},{"b":14,"p":0,"x":1.215,"y":1742.4},
{"b":14,"p":1,"x":1.2265,"y":1734.3},{"b":14,"p":1,"x":1.239,"y":1735},{"b":14,"p":1,"x":1.2494,"y":1731},{"b":14,"p":1,"x":1.24,"y":1727.2},{"b":14,"p":1,"x":1.2431,"y":1720.9},{"b":14,"p":1,"x":1.2473,"y":1716.7},{"b":14,"p":1,"x":1.2525,"y":1713.9},{"b":14,"p":1,"x":1.2286,"y":1712.8},{"b":14,"p":1,"x":1.2129,"y":1713.2},{"b":14,"p":1,"x":1.2171,"y":1716},{"b":14,"p":1,"x":1.2244,"y":1722.3},{"b":14,"p":1,"x":1.2254,"y":1727.2},{"b":14,"p":1,"x":1.2156,"y":1730.8},
{"b":14,"p":2,"x":1.2275,"y":1698.5},{"b":14,"p":2,"x":1.2338,"y":1698.2},{"b":14,"p":2,"x":1.239,"y":1696.8},{"b":14,"p":2,"x":1.2327,"y":1695.6},{"b":14,"p":2,"x":1.2244,"y":1696.3},
{"b":15,"p":0,"x":1.2265,"y":1743.5},{"b":15,"p":0,"x":1.2338,"y":1743.7},{"b":15,"p":0,"x":1.24,"y":1742.4},{"b":15,"p":0,"x":1.2358,"y":1741.2},{"b":15,"p":0,"x":1.2202,"y":1741.2},{"b":15,"p":0,"x":1.2171,"y":1742.4},
{"b":15,"p":1,"x":1.2275,"y":1733.9},{"b":15,"p":1,"x":1.2379,"y":1734.3},{"b":15,"p":1,"x":1.2487,"y":1731},{"b":15,"p":1,"x":1.2385,"y":1727.2},{"b":15,"p":1,"x":1.241,"y":1720.9},{"b":15,"p":1,"x":1.2452,"y":1716.7},{"b":15,"p":1,"x":1.2494,"y":1714.2},{"b":15,"p":1,"x":1.2286,"y":1713.1},{"b":15,"p":1,"x":1.215,"y":1713.6},{"b":15,"p":1,"x":1.2223,"y":1718.8},{"b":15,"p":1,"x":1.2275,"y":1723.7},{"b":15,"p":1,"x":1.2275,"y":1728},{"b":15,"p":1,"x":1.2171,"y":1730.8},
{"b":15,"p":2,"x":1.2296,"y":1697.5},{"b":15,"p":2,"x":1.2338,"y":1697.3},{"b":15,"p":2,"x":1.2358,"y":1696.6},{"b":15,"p":2,"x":1.2317,"y":1695.9},{"b":15,"p":2,"x":1.2286,"y":1696.3},
{"b":16,"p":0,"x":1.2275,"y":1743.3},{"b":16,"p":0,"x":1.2338,"y":1743.4},{"b":16,"p":0,"x":1.239,"y":1742.4},{"b":16,"p":0,"x":1.2348,"y":1741.4},{"b":16,"p":0,"x":1.2223,"y":1741.4},{"b":16,"p":0,"x":1.2192,"y":1742.4},
{"b":16,"p":1,"x":1.2286,"y":1733.6},{"b":16,"p":1,"x":1.2369,"y":1733.9},{"b":16,"p":1,"x":1.2483,"y":1731},{"b":16,"p":1,"x":1.2373,"y":1725.8},{"b":16,"p":1,"x":1.2358,"y":1723},{"b":16,"p":1,"x":1.2296,"y":1723},{"b":16,"p":1,"x":1.2281,"y":1728},{"b":16,"p":1,"x":1.2175,"y":1730.8},
{"b":16,"p":2,"x":1.2265,"y":1718.8},{"b":16,"p":2,"x":1.239,"y":1717.4},{"b":16,"p":2,"x":1.2442,"y":1713.9},{"b":16,"p":2,"x":1.2286,"y":1713.4},{"b":16,"p":2,"x":1.2171,"y":1713.9},
{"b":17,"p":0,"x":1.2286,"y":1743},{"b":17,"p":0,"x":1.2338,"y":1743.1},{"b":17,"p":0,"x":1.2379,"y":1742.4},{"b":17,"p":0,"x":1.2344,"y":1741.7},{"b":17,"p":0,"x":1.2233,"y":1741.7},{"b":17,"p":0,"x":1.2202,"y":1742.3},
{"b":17,"p":1,"x":1.2296,"y":1733.2},{"b":17,"p":1,"x":1.2369,"y":1733.6},{"b":17,"p":1,"x":1.2473,"y":1731},{"b":17,"p":1,"x":1.2373,"y":1725.8},{"b":17,"p":1,"x":1.2317,"y":1725.2},{"b":17,"p":1,"x":1.2296,"y":1728.7},{"b":17,"p":1,"x":1.2181,"y":1730.8},
{"b":17,"p":2,"x":1.2244,"y":1716.7},{"b":17,"p":2,"x":1.2327,"y":1717},{"b":17,"p":2,"x":1.239,"y":1715},{"b":17,"p":2,"x":1.2431,"y":1713.9},{"b":17,"p":2,"x":1.2286,"y":1713.5},{"b":17,"p":2,"x":1.2161,"y":1713.9},
{"b":19,"p":0,"x":1.2286,"y":1742.8},{"b":19,"p":0,"x":1.2338,"y":1742.8},{"b":19,"p":0,"x":1.2369,"y":1742.4},{"b":19,"p":0,"x":1.2338,"y":1741.9},{"b":19,"p":0,"x":1.2244,"y":1741.9},{"b":19,"p":0,"x":1.2219,"y":1742.3},
{"b":19,"p":1,"x":1.2306,"y":1732.9},{"b":19,"p":1,"x":1.2369,"y":1733.2},{"b":19,"p":1,"x":1.2463,"y":1731},{"b":19,"p":1,"x":1.2373,"y":1727.2},{"b":19,"p":1,"x":1.2338,"y":1726.8},{"b":19,"p":1,"x":1.2306,"y":1729.4},{"b":19,"p":1,"x":1.2192,"y":1730.8},
{"b":19,"p":2,"x":1.2223,"y":1715.6},{"b":19,"p":2,"x":1.2275,"y":1716},{"b":19,"p":2,"x":1.2327,"y":1713.9},{"b":19,"p":2,"x":1.2265,"y":1713.5},{"b":19,"p":2,"x":1.2181,"y":1713.9},
{"b":21,"p":0,"x":1.2317,"y":1732.4},{"b":21,"p":0,"x":1.2379,"y":1732.6},{"b":21,"p":0,"x":1.2442,"y":1731},{"b":21,"p":0,"x":1.2365,"y":1728},{"b":21,"p":0,"x":1.2327,"y":1729.4},{"b":21,"p":0,"x":1.2213,"y":1730.8},
{"b":21,"p":1,"x":1.2219,"y":1715},{"b":21,"p":1,"x":1.2265,"y":1715},{"b":21,"p":1,"x":1.2306,"y":1713.8},{"b":21,"p":1,"x":1.2233,"y":1713.1},{"b":21,"p":1,"x":1.2192,"y":1713.9},
{"b":22,"p":0,"x":1.2317,"y":1732.2},{"b":22,"p":0,"x":1.2375,"y":1732.2},{"b":22,"p":0,"x":1.2421,"y":1731},{"b":22,"p":0,"x":1.2358,"y":1728.7},{"b":22,"p":0,"x":1.2327,"y":1729.8},{"b":22,"p":0,"x":1.2244,"y":1730.6},
{"b":22,"p":1,"x":1.2223,"y":1714.6},{"b":22,"p":1,"x":1.2254,"y":1714.6},{"b":22,"p":1,"x":1.2275,"y":1713.8},{"b":22,"p":1,"x":1.2227,"y":1713.2},{"b":22,"p":1,"x":1.2202,"y":1713.9},
{"b":23,"p":0,"x":1.2323,"y":1731.9},{"b":23,"p":0,"x":1.2369,"y":1731.7},{"b":23,"p":0,"x":1.2406,"y":1730.9},{"b":23,"p":0,"x":1.2354,"y":1729.4},{"b":23,"p":0,"x":1.2275,"y":1730.6},
{"b":24,"p":0,"x":1.2331,"y":1731.5},{"b":24,"p":0,"x":1.2369,"y":1731.3},{"b":24,"p":0,"x":1.239,"y":1730.8},{"b":24,"p":0,"x":1.2352,"y":1729.8},{"b":24,"p":0,"x":1.2296,"y":1730.6}
]},"mark":{"type":"line","order":false,"strokeWidth":0},"encoding":{"x":{"field":"x","type":"quantitative","scale":{"domain":[1.16,1.31],"nice":false},"axis":{"orient":"bottom","values":[1.16,1.2,1.25,1.3],"format":".3~g","tickSize":4,"labelPadding":5,"labelFlush":false}},"y":{"field":"y","type":"quantitative","scale":{"domain":[1650,1800],"nice":false},"axis":{"orient":"left","values":[1650,1700,1750,1800],"format":"d","tickSize":5,"labelPadding":1}},"fill":{"field":"b","type":"ordinal","scale":{"domain":[0,1,2,3,4,5,6,7,8,9,10,11,12,13,14,15,16,17,18,19,20,21,22,23,24]},"legend":null},"detail":{"field":"p"}}},
{"data":{"values":[{"x":1.17},{"x":1.1856},{"x":1.2006},{"x":1.2169}]},"mark":{"type":"rule","color":"#fff","opacity":0.12,"strokeWidth":1},"encoding":{"x":{"field":"x","type":"quantitative","scale":{"domain":[1.16,1.31],"nice":false},"axis":{"orient":"top","values":[1.17,1.18,1.19,1.2,1.21,1.22,1.23,1.24,1.25,1.26,1.27,1.28,1.29,1.3],"labels":false,"tickSize":-3}}}},
{"data":{"values":[{"y":1794.1},{"y":1788.6},{"y":1783.1},{"y":1777.2},{"y":1771.3},{"y":1765.4},{"y":1760},{"y":1754.1}]},"mark":{"type":"rule","color":"#fff","opacity":0.12,"strokeWidth":1},"encoding":{"y":{"field":"y","type":"quantitative","scale":{"domain":[1650,1800],"nice":false},"axis":{"orient":"right","values":[1660,1670,1680,1690,1700,1710,1720,1730,1740,1750,1760,1770,1780,1790],"labels":false,"tickSize":-3}}}},
{"data":{"values":[{"x":1.16,"y":1818.1,"t":"b)"}]},"mark":{"type":"text","align":"left","baseline":"alphabetic","fontSize":19.5,"fontWeight":"bold"},"encoding":{"x":{"field":"x","type":"quantitative","scale":{"domain":[1.16,1.31],"nice":false},"axis":{"orient":"bottom","values":[1.17,1.18,1.19,1.2,1.21,1.22,1.23,1.24,1.25,1.26,1.27,1.28,1.29,1.3],"labels":false,"tickSize":-3}},"y":{"field":"y","type":"quantitative","scale":{"domain":[1650,1800],"nice":false},"axis":{"orient":"left","values":[1660,1670,1680,1690,1710,1720,1730,1740,1760,1770,1780,1790],"labels":false,"tickSize":-3}},"text":{"field":"t"}}},
{"data":{"values":[{"x":1.1738,"y":1818.1,"t":"methyl acetate in D"},{"x":1.2738,"y":1818.1,"t":"O"}]},"mark":{"type":"text","align":"left","baseline":"alphabetic","fontSize":19.5},"encoding":{"x":{"field":"x","type":"quantitative","axis":null},"y":{"field":"y","type":"quantitative","axis":null},"text":{"field":"t"}}},
{"data":{"values":[{"x":1.2694,"y":1816,"t":"2"}]},"mark":{"type":"text","align":"left","baseline":"alphabetic","fontSize":13},"encoding":{"x":{"field":"x","type":"quantitative","axis":null},"y":{"field":"y","type":"quantitative","axis":null},"text":{"field":"t"}}},
{"data":{"values":[{"x":1.2288,"y":1628.1,"t":"C=O"}]},"mark":{"type":"text","align":"left","baseline":"alphabetic","fontSize":11},"encoding":{"x":{"field":"x","type":"quantitative","axis":null},"y":{"field":"y","type":"quantitative","axis":null},"text":{"field":"t"}}},
{"data":{"values":[{"x":1.2231,"y":1629.8,"t":"r"}]},"mark":{"type":"text","align":"left","baseline":"alphabetic","fontSize":15,"fontWeight":"bold"},"encoding":{"x":{"field":"x","type":"quantitative","axis":null},"y":{"field":"y","type":"quantitative","axis":null},"text":{"field":"t"}}},
{"data":{"values":[{"x":1.2444,"y":1629.8,"t":"/ Å"}]},"mark":{"type":"text","align":"left","baseline":"alphabetic","fontSize":15},"encoding":{"x":{"field":"x","type":"quantitative","axis":null},"y":{"field":"y","type":"quantitative","axis":null},"text":{"field":"t"}}}
]},
{"width":9,"height":356,"view":{"stroke":null},"resolve":{"axis":{"y":"independent"}},"layer":[
{"data":{"values":[{"lo":-0.0652,"hi":0},{"lo":1.63,"hi":1.6952}]},"mark":{"type":"rect","fill":"#fff","stroke":"#aaa","strokeWidth":1},"encoding":{"y":{"field":"lo","type":"quantitative","scale":{"domain":[-0.0652,1.6952],"nice":false,"zero":false},"axis":null},"y2":{"field":"hi"}}},
{"data":{"values":[{"b":0,"lo":0,"hi":0.0652},{"b":1,"lo":0.0652,"hi":0.1304},{"b":2,"lo":0.1304,"hi":0.1956},{"b":3,"lo":0.1956,"hi":0.2608},{"b":4,"lo":0.2608,"hi":0.326},{"b":5,"lo":0.326,"hi":0.3912},{"b":6,"lo":0.3912,"hi":0.4564},{"b":7,"lo":0.4564,"hi":0.5216},{"b":8,"lo":0.5216,"hi":0.5868},{"b":9,"lo":0.5868,"hi":0.652},{"b":10,"lo":0.652,"hi":0.7172},{"b":11,"lo":0.7172,"hi":0.7824},{"b":12,"lo":0.7824,"hi":0.8476},{"b":13,"lo":0.8476,"hi":0.9128},{"b":14,"lo":0.9128,"hi":0.978},{"b":15,"lo":0.978,"hi":1.0432},{"b":16,"lo":1.0432,"hi":1.1084},{"b":17,"lo":1.1084,"hi":1.1736},{"b":18,"lo":1.1736,"hi":1.2388},{"b":19,"lo":1.2388,"hi":1.304},{"b":20,"lo":1.304,"hi":1.3692},{"b":21,"lo":1.3692,"hi":1.4344},{"b":22,"lo":1.4344,"hi":1.4996},{"b":23,"lo":1.4996,"hi":1.5648},{"b":24,"lo":1.5648,"hi":1.63}]},"mark":{"type":"rect"},"encoding":{"y":{"field":"lo","type":"quantitative","scale":{"domain":[-0.0652,1.6952],"nice":false,"zero":false},"axis":{"orient":"right","values":[0,0.196,0.391,0.587,0.782,0.978,1.17,1.37,1.56],"format":".3~g","tickSize":0,"labelPadding":2,"labelFontSize":13,"labelOffset":2,"title":"probability distribution\u00a0\u00a0/\u00a0\u00a0%","titleFont":"Liberation Serif","titleFontSize":14,"titleFontWeight":"normal","titleColor":"#222","titleX":53,"titleY":169,"titleAngle":270,"titleBaseline":"alphabetic","titleAlign":"center"}},"y2":{"field":"hi"},"fill":{"field":"b","type":"ordinal","scale":{"domain":[0,1,2,3,4,5,6,7,8,9,10,11,12,13,14,15,16,17,18,19,20,21,22,23,24]},"legend":null}}}
]}]}]}
